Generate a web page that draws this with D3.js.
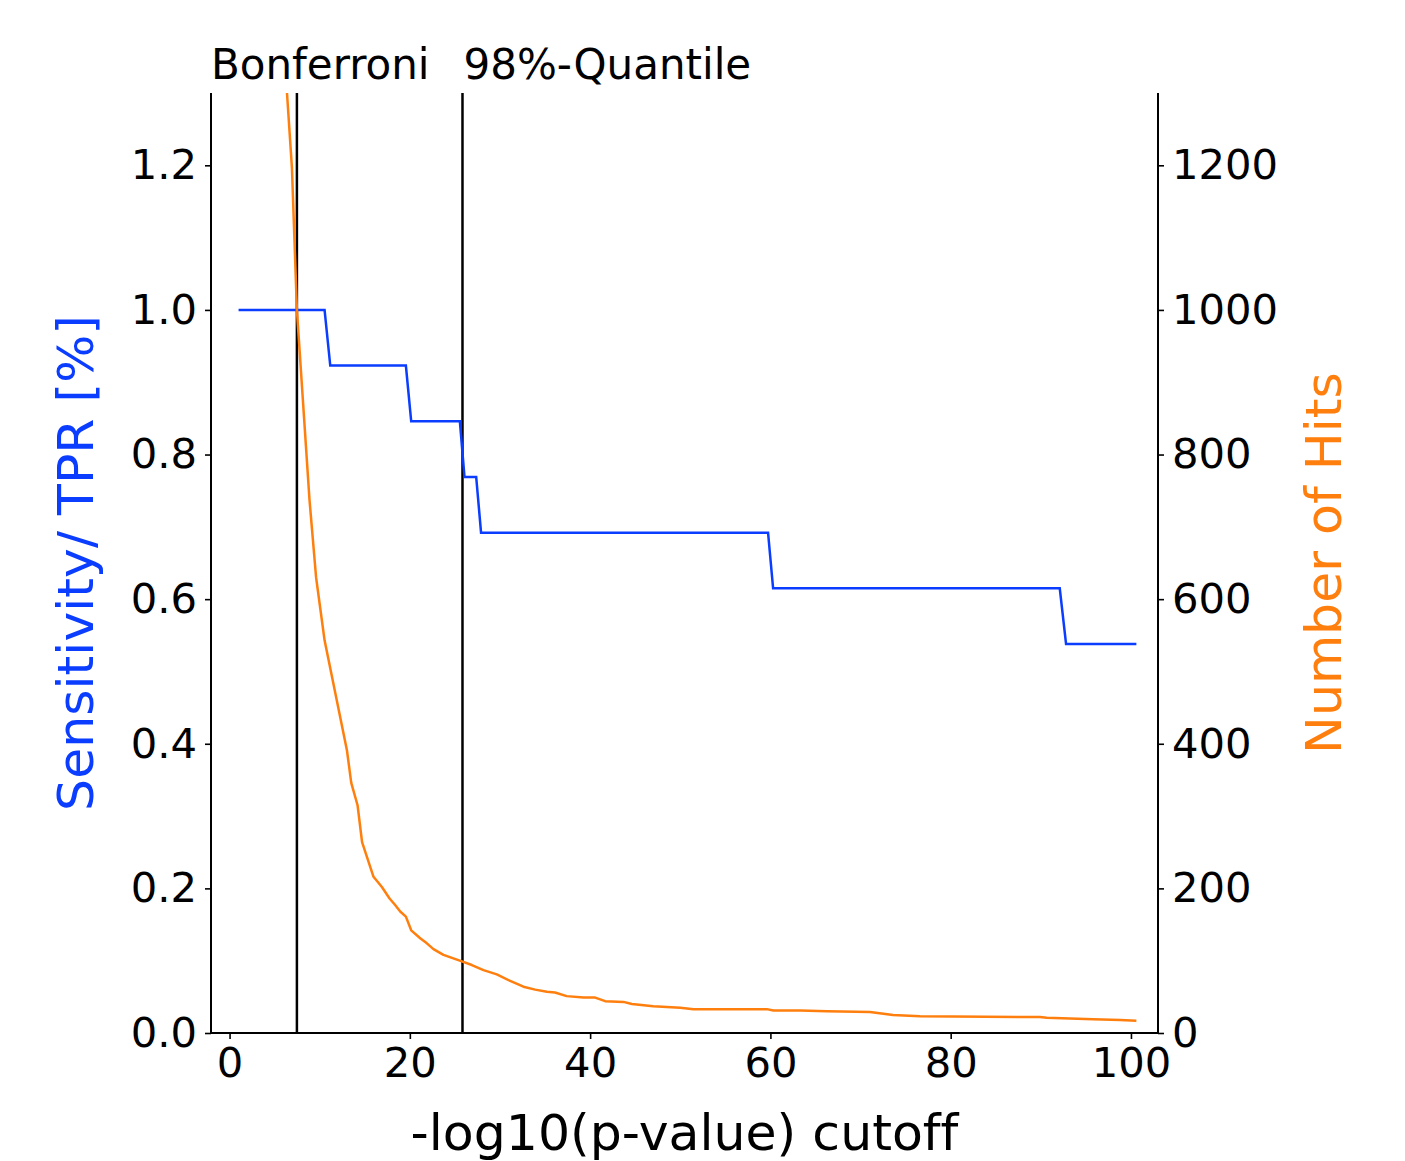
<!DOCTYPE html>
<html>
<head>
<meta charset="utf-8">
<script src="https://cdn.jsdelivr.net/npm/d3@7"></script>
<style>
body{margin:0;background:#fff;}
text{font-family:"DejaVu Sans",sans-serif;font-variant-ligatures:none;}
</style>
</head>
<body>
<div id="chart"></div>
<script>
var width = 1405;
var height = 1161;
var margin = {left:211, right:247, top:93, bottom:128};

// sensitivity (TPR) vs cutoff
var tprX = [1, 10.54, 11.17, 19.56, 20.15, 25.55, 26.06, 27.36, 27.9, 59.74, 60.3, 92.1, 92.8, 100.6];
var tprY = [1.0, 1.0, 0.923, 0.923, 0.846, 0.846, 0.769, 0.769, 0.692, 0.692, 0.615, 0.615, 0.538, 0.538];

// number of hits vs cutoff
var hitsX = [5.5, 6.37, 6.92, 7.47, 8.87, 9.6, 10.54, 13.02, 13.5, 14.2, 14.7, 15.97, 16.9, 17.75, 18.37, 18.93,
	19.56, 20.15, 21.15, 21.89, 22.62, 23.73, 25.77, 26.88, 28.17, 29.65, 31.13, 32.6, 33.9, 35.2, 36.1, 37.4,
	39.26, 40.56, 41.67, 43.7, 44.63, 47.0, 48.5, 50, 51.46, 59.6, 60.33, 63.3, 66.25, 71.05, 73.6, 76.6,
	89.9, 90.65, 95.8, 98.8, 100.6];
var hits = [1460, 1300, 1196, 1000, 737, 630, 543, 391, 346, 315, 264, 216, 202, 186, 177, 168,
	161, 142, 131, 124, 116, 108, 99, 94, 87, 81, 72, 64, 60, 57, 56, 51,
	49, 49, 44, 43, 40, 37, 36, 35, 33, 33, 31, 31, 30, 29, 25, 23,
	22, 21, 19, 18, 17];

var thresholds = [7.47, 25.84];
var thresholdNames = ["Bonferroni", "98%-Quantile"];

var xTicks = [0, 20, 40, 60, 80, 100];
var yTicks = [0.0, 0.2, 0.4, 0.6, 0.8, 1.0, 1.2];
var y2Ticks = [0, 200, 400, 600, 800, 1000, 1200];

var blue = "#0a3dff";
var orange = "#ff7f0e";

function drawChart(){
	var svg = d3.select("#chart").append("svg").attr("width",width).attr("height",height);
	var pw = width-margin.left-margin.right;
	var ph = height-margin.top-margin.bottom;

	var x = d3.scaleLinear().domain([-2.06, 103]).range([margin.left, margin.left+pw]);
	var y = d3.scaleLinear().domain([0, 1.3]).range([margin.top+ph, margin.top]);
	var y2 = d3.scaleLinear().domain([0, 1300]).range([margin.top+ph, margin.top]);

	svg.append("clipPath").attr("id","plot")
		.append("rect")
			.attr("x",margin.left).attr("y",margin.top)
			.attr("width",pw).attr("height",ph)

	// threshold lines
	svg.append("g")
		.selectAll("line")
		.data(thresholds)
		.enter().append("line")
			.attr("x1",function(d){return x(d)})
			.attr("x2",function(d){return x(d)})
			.attr("y1",margin.top)
			.attr("y2",margin.top+ph)
			.attr("stroke","#000")
			.attr("stroke-width",2.5)

	var offsets = [-86, 1];
	svg.append("g")
		.selectAll("text")
		.data(thresholds)
		.enter().append("text")
			.attr("x",function(d,i){return x(d)+offsets[i]})
			.attr("y",79)
			.attr("font-size","42px")
			.text(function(d,i){return thresholdNames[i]})

	var tprLine = d3.line()
		.x(function(d,i){return x(tprX[i])})
		.y(function(d){return y(d)});
	svg.append("path")
		.datum(tprY)
		.attr("d",tprLine)
		.attr("fill","none")
		.attr("stroke",blue)
		.attr("stroke-width",2.5)
		.attr("clip-path","url(#plot)")

	var hitsLine = d3.line()
		.x(function(d,i){return x(hitsX[i])})
		.y(function(d){return y2(d)});
	svg.append("path")
		.datum(hits)
		.attr("d",hitsLine)
		.attr("fill","none")
		.attr("stroke",orange)
		.attr("stroke-width",2.5)
		.attr("stroke-linejoin","round")
		.attr("clip-path","url(#plot)")

	// axes
	var xAxis = svg.append("g")
		.attr("transform","translate(0,"+(margin.top+ph)+")")
		.call(d3.axisBottom(x).tickValues(xTicks).tickSize(6).tickPadding(8).tickFormat(d3.format("d")));
	var yAxis = svg.append("g")
		.attr("transform","translate("+margin.left+",0)")
		.call(d3.axisLeft(y).tickValues(yTicks).tickSize(6).tickPadding(8).tickFormat(d3.format(".1f")));
	var y2Axis = svg.append("g")
		.attr("transform","translate("+(margin.left+pw)+",0)")
		.call(d3.axisRight(y2).tickValues(y2Ticks).tickSize(6).tickPadding(8).tickFormat(d3.format("d")));

	[xAxis,yAxis,y2Axis].forEach(function(a){
		a.selectAll("text").attr("font-size","41.7px").attr("fill","#000").style("font-family","DejaVu Sans")
		a.selectAll("line").attr("stroke","#000").attr("stroke-width",1.6)
		a.select(".domain").attr("stroke","#000").attr("stroke-width",2)
	});
	// plain spines without end caps
	xAxis.select(".domain").attr("d","M"+margin.left+",0H"+(margin.left+pw))
	yAxis.select(".domain").attr("d","M0,"+margin.top+"V"+(margin.top+ph))
	y2Axis.select(".domain").attr("d","M0,"+margin.top+"V"+(margin.top+ph))

	// labels
	svg.append("text")
		.attr("x",margin.left+pw/2)
		.attr("y",1150)
		.attr("text-anchor","middle")
		.attr("font-size","50.5px")
		.text("-log10(p-value) cutoff")

	svg.append("text")
		.attr("transform","translate(93,"+(margin.top+ph/2)+") rotate(-90)")
		.attr("text-anchor","middle")
		.attr("font-size","50.5px")
		.attr("fill",blue)
		.text("Sensitivity/ TPR [%]")

	svg.append("text")
		.attr("transform","translate(1341,"+(margin.top+ph/2)+") rotate(-90)")
		.attr("text-anchor","middle")
		.attr("font-size","50.5px")
		.attr("fill",orange)
		.text("Number of Hits")
}

drawChart();
</script>
</body>
</html>
